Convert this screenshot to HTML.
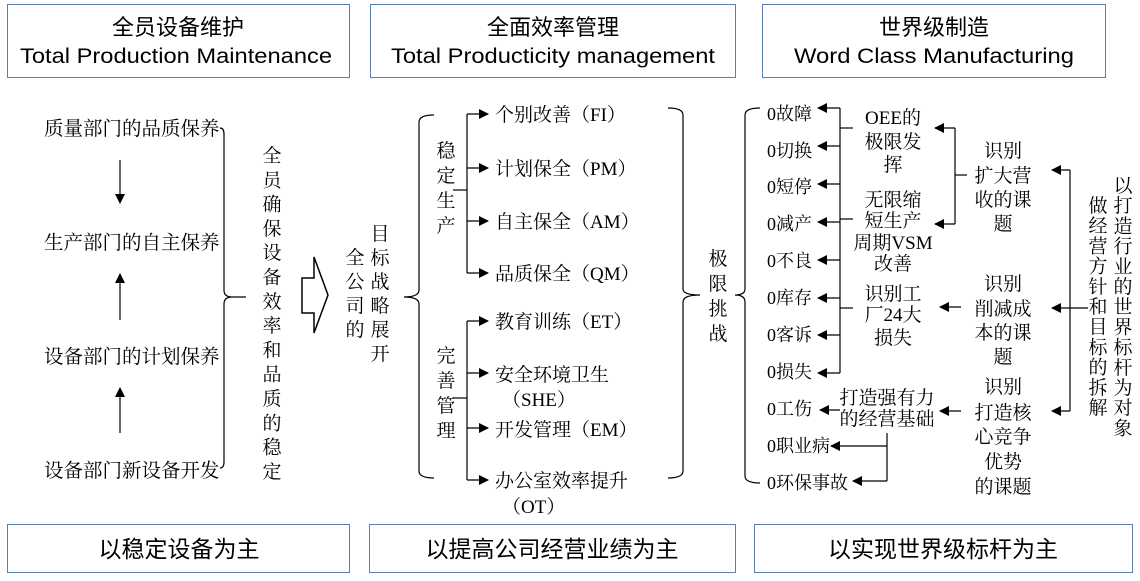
<!DOCTYPE html>
<html><head><meta charset="utf-8"><style>
html,body{margin:0;padding:0;background:#fff;}
svg{display:block;}
.h{font-family:"Liberation Sans","Noto Sans CJK SC",sans-serif;font-size:21px;fill:#000;}
.hc{font-family:"Liberation Sans","Noto Sans CJK SC",sans-serif;font-size:22px;fill:#000;}
.t{font-family:"Liberation Serif","Noto Serif CJK SC",serif;font-size:18px;fill:#000;}
.m{font-family:"Liberation Serif","Noto Serif CJK SC",serif;font-size:19px;fill:#000;}
.l{font-family:"Liberation Serif","Noto Serif CJK SC",serif;font-size:19.5px;fill:#000;}
.v{font-family:"Liberation Serif","Noto Serif CJK SC",serif;font-size:19px;fill:#000;}
.b{font-family:"Liberation Sans","Noto Sans CJK SC",sans-serif;font-size:23px;fill:#000;}
</style></head><body>
<svg width="1140" height="581" viewBox="0 0 1140 581" xmlns="http://www.w3.org/2000/svg">
<defs>
<marker id="a" markerWidth="10" markerHeight="10" refX="9" refY="5" orient="auto" markerUnits="userSpaceOnUse">
<path d="M0,0 L10,5 L0,10 z" fill="#000"/></marker>
</defs>
<g fill="none" stroke="#5b7fb5" stroke-width="1">
<rect x="7.5" y="4.5" width="342" height="73"/>
<rect x="370.5" y="4.5" width="365" height="73"/>
<rect x="762.5" y="4.5" width="343" height="73"/>
<rect x="7.5" y="524.5" width="342" height="48"/>
<rect x="369.5" y="524.5" width="366" height="48"/>
<rect x="754.5" y="524.5" width="378" height="48"/>
</g>
<g text-anchor="middle">
<text class="hc" x="178" y="35">全员设备维护</text>
<text class="h" x="176" y="63" textLength="312" lengthAdjust="spacingAndGlyphs">Total Production Maintenance</text>
<text class="hc" x="553" y="35">全面效率管理</text>
<text class="h" x="553" y="63" textLength="324" lengthAdjust="spacingAndGlyphs">Total Producticity management</text>
<text class="hc" x="934" y="35">世界级制造</text>
<text class="h" x="934" y="63" textLength="280" lengthAdjust="spacingAndGlyphs">Word Class Manufacturing</text>
</g>
<g class="b" text-anchor="middle">
<text x="179" y="557">以稳定设备为主</text>
<text x="552" y="557">以提高公司经营业绩为主</text>
<text x="943" y="557">以实现世界级标杆为主</text>
</g>

<g stroke="#000" stroke-width="1.2" fill="none">
<line x1="120" y1="160" x2="120" y2="203" marker-end="url(#a)"/>
<line x1="120" y1="320" x2="120" y2="274" marker-end="url(#a)"/>
<line x1="120" y1="433" x2="120" y2="388" marker-end="url(#a)"/>
<path d="M220,128 Q224,128 224,134 L224,290 Q224,297 232,297 L246,297 M232,297 Q224,297 224,304 L224,462 Q224,468 220,468"/>
<path d="M302,278 L314,278 L314,257 L328,295 L314,333 L314,313 L302,313 Z" stroke-width="1.5"/>
<path d="M434,115 Q419,115 419,122 L419,290 Q419,297 404,297 Q419,297 419,304 L419,471 Q419,478 434,478"/>
<line x1="467" y1="114" x2="467" y2="273"/>
<line x1="453" y1="190" x2="467" y2="190"/>
<line x1="467" y1="321" x2="467" y2="480"/>
<line x1="453" y1="398" x2="467" y2="398"/>
<line x1="467" y1="114" x2="488" y2="114" marker-end="url(#a)"/>
<line x1="467" y1="168" x2="488" y2="168" marker-end="url(#a)"/>
<line x1="467" y1="221" x2="488" y2="221" marker-end="url(#a)"/>
<line x1="467" y1="273" x2="488" y2="273" marker-end="url(#a)"/>
<line x1="467" y1="321" x2="488" y2="321" marker-end="url(#a)"/>
<line x1="467" y1="373" x2="488" y2="373" marker-end="url(#a)"/>
<line x1="467" y1="428" x2="488" y2="428" marker-end="url(#a)"/>
<line x1="467" y1="480" x2="488" y2="480" marker-end="url(#a)"/>
<path d="M668,108 Q683,108 683,115 L683,289 Q683,295 700,295 Q683,295 683,302 L683,471 Q683,478 668,478"/>
<path d="M760,108 Q745,108 745,115 L745,289 Q745,295 735,295 Q745,295 745,302 L745,476 Q745,483 760,483"/>
<line x1="840" y1="108" x2="840" y2="373"/>
<line x1="840" y1="108" x2="818" y2="108" marker-end="url(#a)"/>
<line x1="840" y1="146" x2="818" y2="146" marker-end="url(#a)"/>
<line x1="840" y1="184" x2="818" y2="184" marker-end="url(#a)"/>
<line x1="840" y1="222" x2="818" y2="222" marker-end="url(#a)"/>
<line x1="840" y1="260" x2="818" y2="260" marker-end="url(#a)"/>
<line x1="840" y1="298" x2="818" y2="298" marker-end="url(#a)"/>
<line x1="840" y1="335" x2="818" y2="335" marker-end="url(#a)"/>
<line x1="840" y1="373" x2="818" y2="373" marker-end="url(#a)"/>
<line x1="840" y1="128" x2="853" y2="128"/>
<line x1="840" y1="219" x2="853" y2="219"/>
<line x1="840" y1="308" x2="853" y2="308"/>
<line x1="840" y1="410" x2="820" y2="410" marker-end="url(#a)"/>
<line x1="887" y1="433" x2="887" y2="481"/>
<line x1="887" y1="446" x2="831" y2="446" marker-end="url(#a)"/>
<line x1="887" y1="481" x2="853" y2="481" marker-end="url(#a)"/>
<line x1="955" y1="128" x2="955" y2="224"/>
<line x1="955" y1="128" x2="935" y2="128" marker-end="url(#a)"/>
<line x1="955" y1="224" x2="935" y2="224" marker-end="url(#a)"/>
<line x1="955" y1="175" x2="967" y2="175"/>
<line x1="961" y1="307" x2="940" y2="307" marker-end="url(#a)"/>
<line x1="961" y1="411" x2="940" y2="411" marker-end="url(#a)"/>
<line x1="1070" y1="170" x2="1070" y2="411"/>
<line x1="1070" y1="170" x2="1052" y2="170" marker-end="url(#a)"/>
<line x1="1070" y1="308" x2="1052" y2="308" marker-end="url(#a)"/>
<line x1="1070" y1="411" x2="1052" y2="411" marker-end="url(#a)"/>
<line x1="1070" y1="308" x2="1088" y2="308"/>
</g>

<g class="l">
<text x="44" y="135">质量部门的品质保养</text>
<text x="44" y="249">生产部门的自主保养</text>
<text x="44" y="363">设备部门的计划保养</text>
<text x="44" y="477">设备部门新设备开发</text>
</g>
<g class="m">
<text x="495" y="121">个别改善（FI）</text>
<text x="495" y="175">计划保全（PM）</text>
<text x="495" y="228">自主保全（AM）</text>
<text x="495" y="280">品质保全（QM）</text>
<text x="495" y="328">教育训练（ET）</text>
<text x="495" y="381">安全环境卫生</text>
<text x="502" y="406">（SHE）</text>
<text x="495" y="436">开发管理（EM）</text>
<text x="495" y="487">办公室效率提升</text>
<text x="502" y="513">（OT）</text>
</g>
<g class="t">
<text x="767" y="120">0故障</text>
<text x="767" y="157">0切换</text>
<text x="767" y="193">0短停</text>
<text x="767" y="230">0减产</text>
<text x="767" y="267">0不良</text>
<text x="767" y="304">0库存</text>
<text x="767" y="341">0客诉</text>
<text x="767" y="378">0损失</text>
<text x="767" y="415">0工伤</text>
<text x="767" y="452">0职业病</text>
<text x="767" y="489">0环保事故</text>
</g>
<g class="m" text-anchor="middle">
<text x="893" y="124">OEE的</text>
<text x="893" y="148">极限发</text>
<text x="893" y="171">挥</text>
<text x="893" y="206">无限缩</text>
<text x="893" y="227">短生产</text>
<text x="893" y="249">周期VSM</text>
<text x="893" y="270">改善</text>
<text x="893" y="300">识别工</text>
<text x="893" y="321">厂24大</text>
<text x="893" y="344">损失</text>
<text x="887" y="404">打造强有力</text>
<text x="887" y="425">的经营基础</text>
<text x="1003" y="157">识别</text>
<text x="1003" y="182">扩大营</text>
<text x="1003" y="206">收的课</text>
<text x="1003" y="230">题</text>
<text x="1003" y="290">识别</text>
<text x="1003" y="315">削减成</text>
<text x="1003" y="339">本的课</text>
<text x="1003" y="363">题</text>
<text x="1003" y="393">识别</text>
<text x="1003" y="419">打造核</text>
<text x="1003" y="443">心竞争</text>
<text x="1003" y="468">优势</text>
<text x="1003" y="493">的课题</text>
</g>
<g class="v" text-anchor="middle">
<text><tspan x="272" y="162">全</tspan><tspan x="272" dy="24.3">员</tspan><tspan x="272" dy="24.3">确</tspan><tspan x="272" dy="24.3">保</tspan><tspan x="272" dy="24.3">设</tspan><tspan x="272" dy="24.3">备</tspan><tspan x="272" dy="24.3">效</tspan><tspan x="272" dy="24.3">率</tspan><tspan x="272" dy="24.3">和</tspan><tspan x="272" dy="24.3">品</tspan><tspan x="272" dy="24.3">质</tspan><tspan x="272" dy="24.3">的</tspan><tspan x="272" dy="24.3">稳</tspan><tspan x="272" dy="24.3">定</tspan></text>
<text><tspan x="355" y="264">全</tspan><tspan x="355" dy="24">公</tspan><tspan x="355" dy="24">司</tspan><tspan x="355" dy="24">的</tspan></text>
<text><tspan x="380" y="240">目</tspan><tspan x="380" dy="24">标</tspan><tspan x="380" dy="24">战</tspan><tspan x="380" dy="24">略</tspan><tspan x="380" dy="24">展</tspan><tspan x="380" dy="24">开</tspan></text>
<text><tspan x="446" y="157">稳</tspan><tspan x="446" dy="25">定</tspan><tspan x="446" dy="25">生</tspan><tspan x="446" dy="25">产</tspan></text>
<text><tspan x="446" y="362">完</tspan><tspan x="446" dy="25">善</tspan><tspan x="446" dy="25">管</tspan><tspan x="446" dy="25">理</tspan></text>
<text><tspan x="718" y="265">极</tspan><tspan x="718" dy="25">限</tspan><tspan x="718" dy="25">挑</tspan><tspan x="718" dy="25">战</tspan></text>
<text><tspan x="1098" y="212">做</tspan><tspan x="1098" dy="20.2">经</tspan><tspan x="1098" dy="20.2">营</tspan><tspan x="1098" dy="20.2">方</tspan><tspan x="1098" dy="20.2">针</tspan><tspan x="1098" dy="20.2">和</tspan><tspan x="1098" dy="20.2">目</tspan><tspan x="1098" dy="20.2">标</tspan><tspan x="1098" dy="20.2">的</tspan><tspan x="1098" dy="20.2">拆</tspan><tspan x="1098" dy="20.2">解</tspan></text>
<text><tspan x="1123" y="192">以</tspan><tspan x="1123" dy="20.2">打</tspan><tspan x="1123" dy="20.2">造</tspan><tspan x="1123" dy="20.2">行</tspan><tspan x="1123" dy="20.2">业</tspan><tspan x="1123" dy="20.2">的</tspan><tspan x="1123" dy="20.2">世</tspan><tspan x="1123" dy="20.2">界</tspan><tspan x="1123" dy="20.2">标</tspan><tspan x="1123" dy="20.2">杆</tspan><tspan x="1123" dy="20.2">为</tspan><tspan x="1123" dy="20.2">对</tspan><tspan x="1123" dy="20.2">象</tspan></text>
</g>
</svg>
</body></html>
